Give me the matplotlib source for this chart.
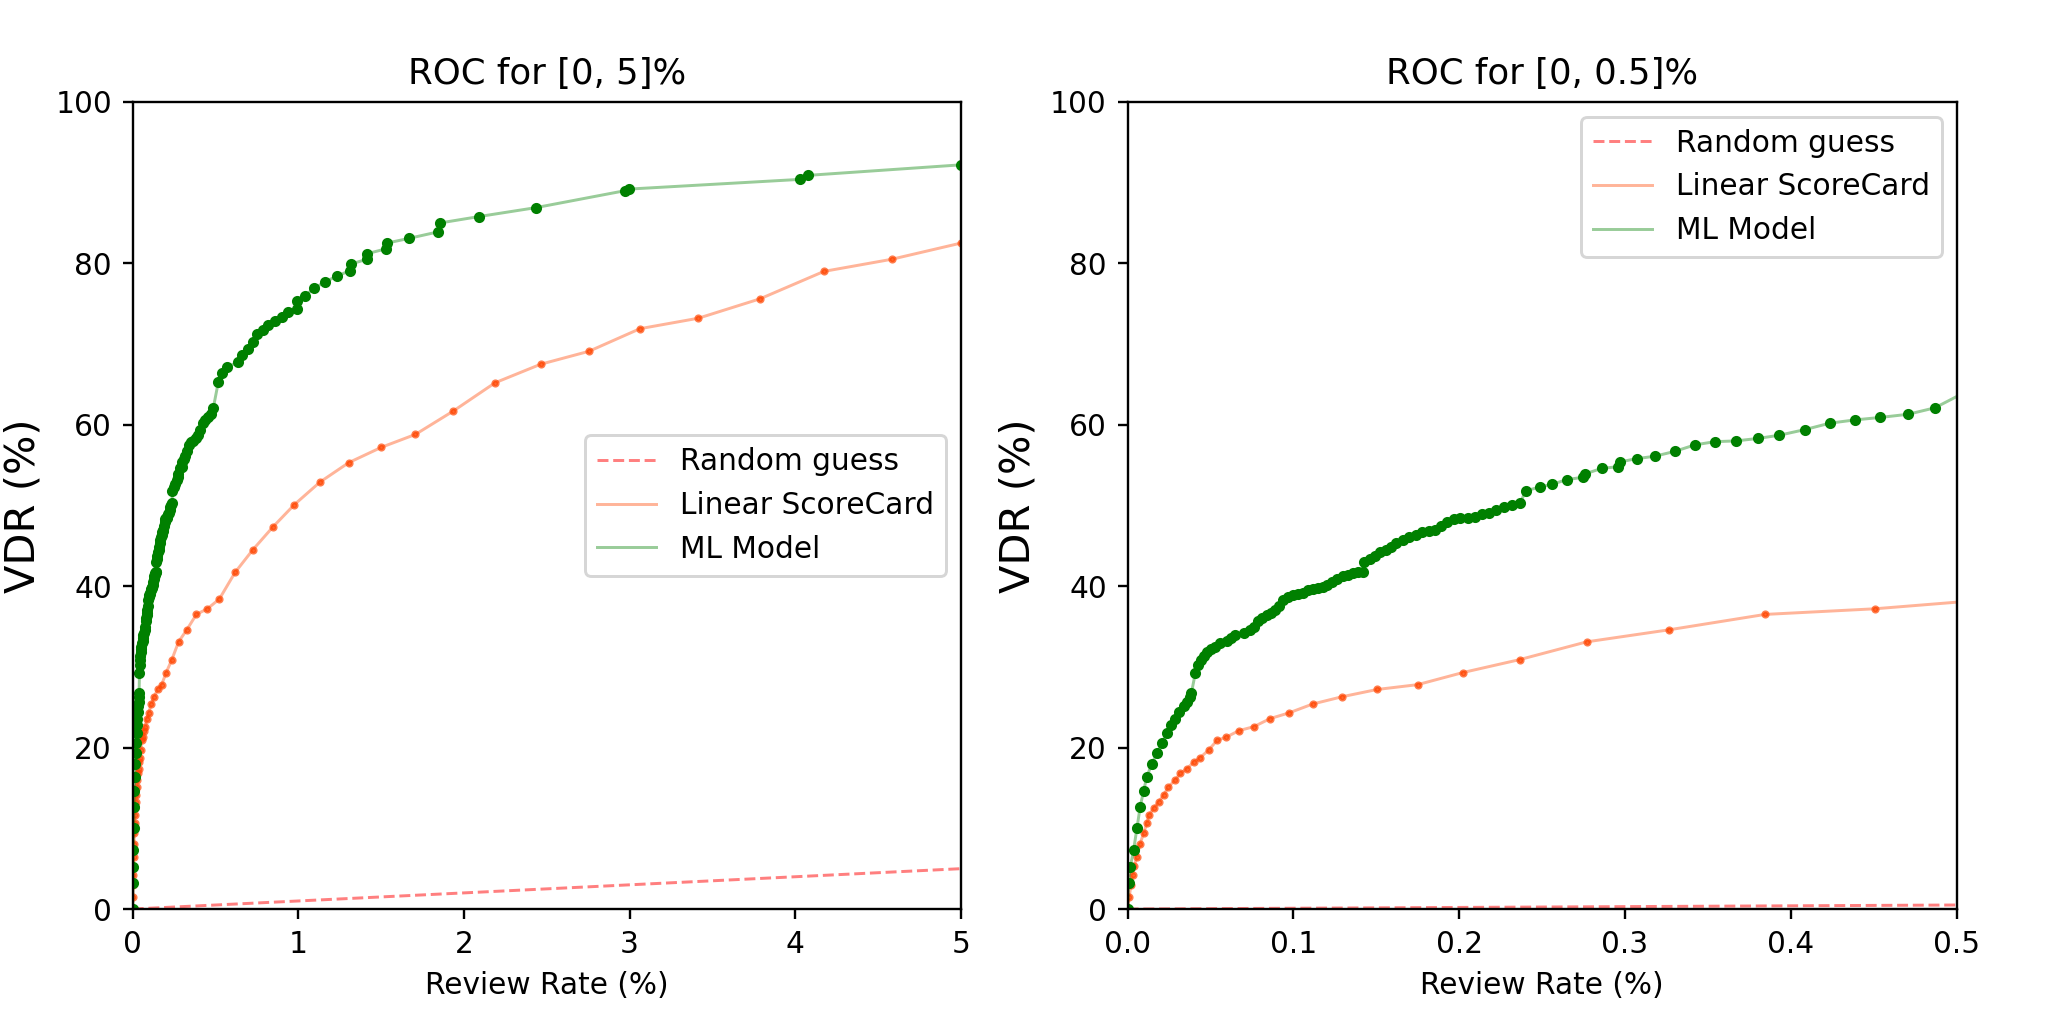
import numpy as np
import matplotlib
matplotlib.use("Agg")
import matplotlib.pyplot as plt

# review rate (%) and VDR (%)
ml_rate = [0, 0.0006, 0.0016, 0.0036, 0.0056, 0.0076, 0.0096, 0.0116, 0.0146, 0.0177,
           0.0207, 0.0237, 0.0262, 0.0287, 0.0312, 0.0338, 0.0358, 0.0378, 0.0385, 0.0408,
           0.0425, 0.0442, 0.046, 0.0478, 0.050, 0.0529, 0.056, 0.0599, 0.0625, 0.0649,
           0.070, 0.074, 0.0765, 0.0788, 0.081, 0.084, 0.0865, 0.089, 0.0915, 0.094,
           0.097, 0.100, 0.103, 0.106, 0.109, 0.112, 0.115, 0.118, 0.1205, 0.123,
           0.1265, 0.130, 0.133, 0.136, 0.139, 0.142, 0.1427, 0.146, 0.149, 0.1525,
           0.156, 0.159, 0.162, 0.166, 0.170, 0.174, 0.1775, 0.1815, 0.1855, 0.189,
           0.1926, 0.1966, 0.2006, 0.205, 0.2097, 0.2137, 0.2177, 0.2222, 0.2268, 0.2318,
           0.2368, 0.240, 0.2487, 0.2557, 0.2648, 0.2748, 0.2758, 0.2859, 0.2959, 0.297,
           0.307, 0.318, 0.330, 0.342, 0.354, 0.367, 0.380, 0.393, 0.4085, 0.4236,
           0.4387, 0.4537, 0.4708, 0.4869, 0.517, 0.537, 0.567, 0.638, 0.658, 0.698,
           0.728, 0.752, 0.789, 0.819, 0.859, 0.900, 0.940, 0.990, 0.995, 1.040,
           1.095, 1.161, 1.232, 1.312, 1.316, 1.413, 1.417, 1.530, 1.534, 1.670,
           1.845, 1.856, 2.093, 2.435, 2.973, 2.999, 4.030, 4.080, 5.0]
ml_vdr = [0, 3.2, 5.2, 7.3, 10.0, 12.7, 14.6, 16.4, 18.0, 19.3,
          20.6, 21.8, 22.8, 23.6, 24.4, 25.1, 25.7, 26.3, 26.8, 29.2,
          30.2, 30.8, 31.4, 31.9, 32.2, 32.5, 32.9, 33.2, 33.6, 34.0,
          34.2, 34.6, 35.0, 35.7, 36.0, 36.4, 36.7, 37.0, 37.6, 38.3,
          38.6, 38.9, 39.0, 39.2, 39.5, 39.7, 39.8, 39.9, 40.2, 40.5,
          40.9, 41.2, 41.4, 41.6, 41.7, 41.8, 43.0, 43.4, 43.8, 44.2,
          44.5, 44.9, 45.3, 45.7, 46.1, 46.4, 46.7, 46.8, 46.9, 47.5,
          48.0, 48.3, 48.5, 48.5, 48.6, 48.9, 49.1, 49.4, 49.8, 50.0,
          50.3, 51.8, 52.3, 52.6, 53.2, 53.5, 53.9, 54.6, 54.8, 55.4,
          55.8, 56.1, 56.7, 57.5, 57.9, 58.0, 58.3, 58.7, 59.4, 60.2,
          60.6, 60.9, 61.3, 62.1, 65.3, 66.4, 67.1, 67.8, 68.6, 69.4,
          70.3, 71.3, 71.7, 72.3, 72.9, 73.3, 74.0, 74.4, 75.3, 76.0,
          76.9, 77.7, 78.4, 79.1, 79.9, 80.5, 81.2, 81.8, 82.5, 83.1,
          83.9, 85.0, 85.8, 86.9, 89.0, 89.2, 90.4, 90.9, 92.2]

lin_rate = [0, 0.001, 0.002, 0.003, 0.004, 0.0056, 0.0076, 0.0096, 0.0116, 0.0127,
            0.0157, 0.0187, 0.0217, 0.0245, 0.0287, 0.0317, 0.0358, 0.0398, 0.0434, 0.0489,
            0.0539, 0.0595, 0.0671, 0.0762, 0.086, 0.0973, 0.1116, 0.1293, 0.1504, 0.1749,
            0.2022, 0.2364, 0.2768, 0.3267, 0.3844, 0.4507, 0.523, 0.618, 0.725, 0.845,
            0.976, 1.131, 1.304, 1.501, 1.707, 1.936, 2.188, 2.464, 2.755, 3.063,
            3.416, 3.788, 4.174, 4.583, 5.0]
lin_vdr = [0, 1.5, 3.0, 4.2, 5.3, 6.5, 8.1, 9.4, 10.6, 11.6,
           12.5, 13.3, 14.1, 15.1, 16.0, 16.8, 17.4, 18.2, 18.7, 19.7,
           20.9, 21.3, 22.1, 22.6, 23.6, 24.3, 25.4, 26.3, 27.2, 27.8,
           29.3, 30.9, 33.1, 34.6, 36.5, 37.2, 38.4, 41.7, 44.5, 47.3,
           50.1, 52.9, 55.3, 57.2, 58.8, 61.7, 65.2, 67.5, 69.1, 71.9,
           73.2, 75.6, 79.0, 80.5, 82.5]

rand_rate = [0, 100]
rand_vdr = [0, 100]

panels = [
    ("ROC for [0, 5]%", 5, [0, 1, 2, 3, 4, 5], "center right"),
    ("ROC for [0, 0.5]%", 0.5, [0.0, 0.1, 0.2, 0.3, 0.4, 0.5], "upper right"),
]

DPI = 640 / 3
fig = plt.figure(figsize=(2048 / DPI, 1023 / DPI), dpi=DPI)
axes = [fig.add_axes([0.0648, 0.1114, 0.4043, 0.789]),
        fig.add_axes([0.5506, 0.1114, 0.4048, 0.789])]

for ax, (title, xmax, xticks, legend_loc) in zip(axes, panels):
    ax.plot(rand_rate, rand_vdr, '--', color='red', alpha=0.5, lw=1, label='Random guess')
    ax.plot(lin_rate, lin_vdr, '-', color='orangered', alpha=0.4, lw=1, label='Linear ScoreCard')
    ax.plot(lin_rate, lin_vdr, '.', color='orangered', alpha=0.7, markersize=3.5)
    ax.plot(ml_rate, ml_vdr, '-', color='green', alpha=0.4, lw=1, label='ML Model')
    ax.plot(ml_rate, ml_vdr, '.', color='green', markersize=5.5)
    ax.set_xlim(0, xmax)
    ax.set_ylim(0, 100)
    ax.set_xticks(xticks)
    ax.set_title(title, fontsize=12)
    ax.set_xlabel('Review Rate (%)', fontsize=10)
    ax.set_ylabel('VDR (%)', fontsize=14)
    ax.legend(loc=legend_loc, fontsize=10)

plt.savefig('out.png', dpi=DPI)
